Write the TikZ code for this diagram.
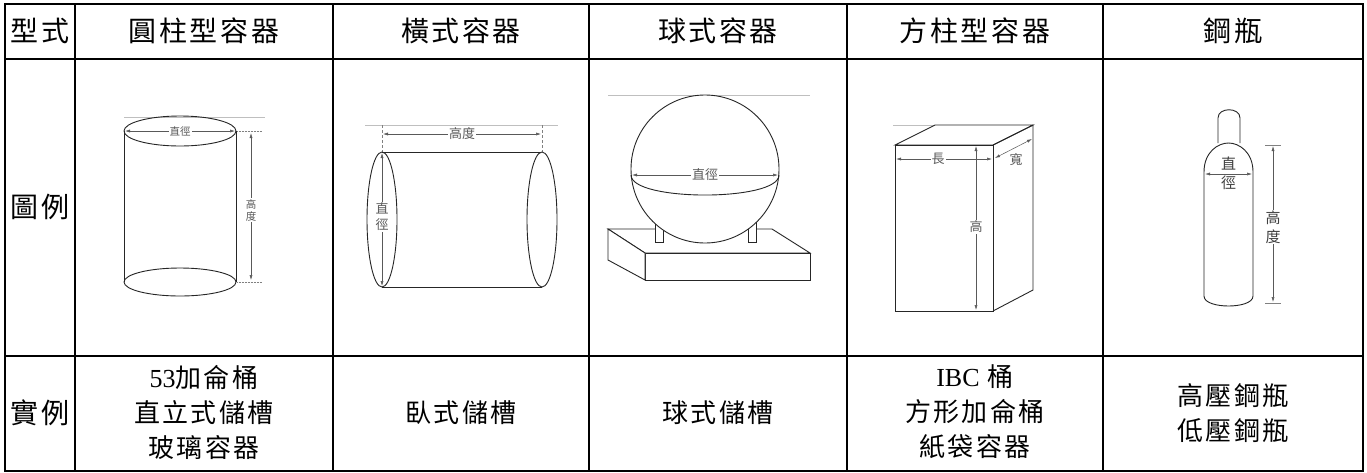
\documentclass[tikz,border=0pt]{standalone}
\usepackage{fontspec}
\setmainfont{Noto Sans CJK TC}
\newfontfamily\spaced[LetterSpace=9]{Noto Sans CJK TC}
\newfontfamily\lat{Liberation Serif}
\usetikzlibrary{arrows.meta}
\begin{document}
\begin{tikzpicture}[x=1pt,y=-1pt,
 grid/.style={line width=2.2pt},
 hdr/.style={font=\spaced\fontsize{28}{32}\selectfont, inner sep=0pt},
 body/.style={font=\spaced\fontsize{26}{35}\selectfont, align=center, inner sep=0pt},
 dim/.style={font=\fontsize{13}{16}\selectfont, text=black!65, inner sep=1pt, fill=white, align=center},
 dimsm/.style={dim, font=\fontsize{10.5}{12}\selectfont},
 dimbig/.style={dim, font=\fontsize{15}{19}\selectfont, text=black!75},
 shp/.style={line width=0.9pt, draw=black!85},
 dimln/.style={line width=0.5pt, draw=black!65, {Latex[length=5pt,width=3pt]}-{Latex[length=5pt,width=3pt]}},
 edgeln/.style={line width=0.8pt, draw=black!25},
 aux/.style={line width=0.5pt, draw=black!50}]

\useasboundingbox (0,0) rectangle (1367,472);
\fill[white] (0,0) rectangle (1367,472);

% ---------- table grid ----------
\draw[grid] (5,4) rectangle (1363,471);
\draw[grid] (5,59) -- (1363,59);
\draw[grid] (5,356) -- (1363,356);
\foreach \xx in {75,333,589,847,1103}
  \draw[grid] (\xx,4) -- (\xx,471);

% ---------- header ----------
\node[hdr] (h0) at (40,31) {型式};
\node[hdr] (h1) at (204,31) {圓柱型容器};
\node[hdr] (h2) at (461,31) {橫式容器};
\node[hdr] (h3) at (718,31) {球式容器};
\node[hdr] (h4) at (975,31) {方柱型容器};
\node[hdr] (h5) at (1233,31) {鋼瓶};

% ---------- row labels ----------
\node[hdr] (r1) at (40,207) {圖例};
\node[hdr] (r2) at (40,413) {實例};

% ---------- examples ----------
\node[body] (e1) at (204,412) {{\lat 53}加侖桶\\直立式儲槽\\玻璃容器};
\node[body] (e2) at (461,413) {臥式儲槽};
\node[body] (e3) at (718,413) {球式儲槽};
\node[body] (e4) at (975,412) {{\lat IBC} 桶\\方形加侖桶\\紙袋容器};
\node[body] (e5) at (1233,413) {高壓鋼瓶\\低壓鋼瓶};

% ---------- vertical cylinder ----------
\draw[edgeln] (124,117) -- (265,117);
\draw[shp] (180,131) ellipse (56 and 15);
\draw[shp] (124,131) -- (124,282);
\draw[shp] (236,131) -- (236,282);
\draw[shp] (180,282) ellipse (56 and 14);
\draw[dimln] (125,131) -- (235,131);
\node[dimsm] (c1d) at (180,131) {直徑};
\draw[aux, densely dotted] (237,131) -- (262,131);
\draw[aux, densely dotted] (237,282) -- (262,282);
\draw[dimln] (251,133) -- (251,280);
\node[dimsm] (c1h) at (251,210) {高\\度};

% ---------- horizontal cylinder ----------
\draw[edgeln] (365,125) -- (558,125);
\draw[aux, densely dashed] (382,125) -- (382,152);
\draw[aux, densely dashed] (542,125) -- (542,152);
\draw[dimln] (383,134) -- (541,134);
\node[dim] (c2h) at (462,134) {高度};
\draw[shp] (382,152) -- (542,152);
\draw[shp] (382,287) -- (542,287);
\draw[shp, fill=white] (542,219.5) ellipse (15 and 67.5);
\draw[shp] (382,219.5) ellipse (15 and 67.5);
\draw[dimln] (382,153) -- (382,286);
\node[dim] (c2d) at (382,217) {直\\徑};

% ---------- sphere ----------
\draw[edgeln] (608,95) -- (810,95);
\draw[shp, fill=white] (608,229) -- (772,229) -- (810,253) -- (645,253) -- cycle;
\draw[shp, fill=white] (645,253) rectangle (810,280);
\draw[shp, fill=white] (608,229) -- (645,253) -- (645,280) -- (608,260) -- cycle;
\draw[shp, fill=white] (655,222) rectangle (663,242);
\draw[shp, fill=white] (748,222) rectangle (756,242);
\draw[shp, fill=white] (705,169) circle (74);
\draw[shp] (631,175) .. controls (631,201.7) and (779,201.7) .. (779,175);
\draw[dimln] (632,175) -- (778,175);
\node[dim] (c3d) at (705,175) {直徑};

% ---------- box ----------
\draw[edgeln] (893,125) -- (935,125);
\draw[shp, fill=white] (895,145) -- (935,125) -- (1033,125) -- (993,145) -- cycle;
\draw[shp] (895,145) rectangle (993,311);
\draw[shp] (993,145) -- (1033,125) -- (1033,290) -- (993,311);
\draw[dimln] (896,159) -- (992,159);
\node[dim] (c4l) at (938,159) {長};
\draw[dimln] (976,146) -- (976,310);
\node[dim] (c4h) at (976,227) {高};
\draw[dimln] (995,158) -- (1032,139);
\node[dim] (c4w) at (1016,160) {寬};

% ---------- gas bottle ----------
\draw[shp] (1218,143) -- (1218,118) .. controls (1218,107) and (1240,107) .. (1240,118) -- (1240,143);
\draw[shp] (1204,296) -- (1204,172) .. controls (1204,152) and (1218,143) .. (1228.5,143)
  .. controls (1239,143) and (1253,152) .. (1253,172) -- (1253,296)
  .. controls (1253,303) and (1240,306) .. (1228.5,306)
  .. controls (1217,306) and (1204,303) .. (1204,296);
\draw[dimln] (1205,174) -- (1252,174);
\node[dimbig, fill=none] (c5d) at (1228.5,173) {直\\徑};
\draw[dimln] (1273,146) -- (1273,302);
\draw[aux] (1265,145) -- (1281,145);
\draw[aux] (1265,303) -- (1281,303);
\node[dimbig] (c5h) at (1273,227) {高\\度};
\end{tikzpicture}
\end{document}
